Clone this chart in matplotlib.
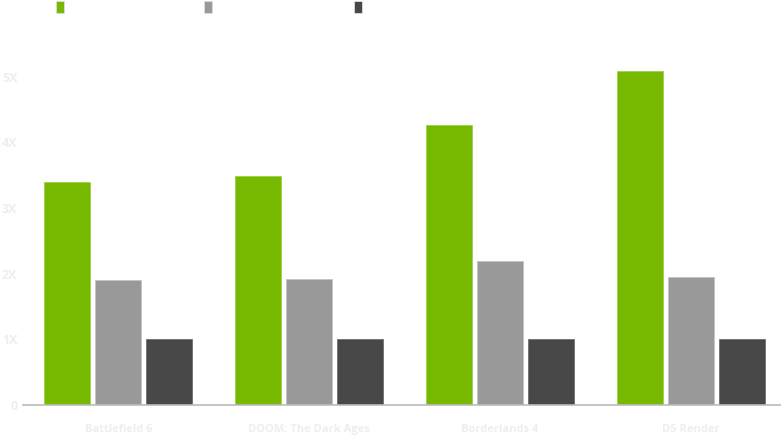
import matplotlib.pyplot as plt
import numpy as np
from matplotlib.patches import Rectangle

games = ['Battlefield 6', 'DOOM: The Dark Ages', 'Borderlands 4', 'D5 Render']
series_names = ['DLSS 4 MFG', 'DLSS SR', 'Native']
mfg = [3.39, 3.49, 4.26, 5.08]
sr = [1.90, 1.92, 2.19, 1.95]
native = [1.0, 1.0, 1.0, 1.0]
y_ticks = [0, 1, 2, 3, 4, 5]
y_labels = ['0', '1X', '2X', '3X', '4X', '5X']

colors = ['#76b900', '#999999', '#484848']
edges = ['#9fd14a', '#c4c4c4', '#6e6e6e']

plt.rcParams['font.family'] = ['Open Sans', 'DejaVu Sans']

fig = plt.figure(figsize=(7.81, 4.38), dpi=100)
ax = fig.add_axes([23 / 781, 33 / 438, 763 / 781, 394 / 438])

x = np.arange(len(games))
width = 0.241
step = 0.267
for i, vals in enumerate([mfg, sr, native]):
    ax.bar(x + (i - 1) * step, vals, width=width, color=colors[i],
           edgecolor=edges[i], linewidth=0.6, label=series_names[i], zorder=2)

ax.set_xlim(-0.5, 3.5)
ax.set_ylim(0, 6)
ax.set_yticks(y_ticks)
ax.set_yticklabels(y_labels)
ax.set_xticks(x)
ax.set_xticklabels(games)

for s in ['top', 'right', 'left']:
    ax.spines[s].set_visible(False)
ax.spines['bottom'].set_color('#bbbbbb')
ax.spines['bottom'].set_linewidth(1.2)
ax.tick_params(axis='both', length=0, colors='#eeeeee')
ax.tick_params(axis='y', pad=4, labelsize=9)
ax.tick_params(axis='x', pad=14, labelsize=8)
for lab in ax.get_xticklabels() + ax.get_yticklabels():
    lab.set_fontweight('bold')

# legend: small coloured blocks with white labels
legend_x = [56, 204, 354]
for lx, c, e, name in zip(legend_x, colors, edges, series_names):
    fig.add_artist(Rectangle((lx / 781, 1 - 13 / 438), 8 / 781, 12 / 438,
                             transform=fig.transFigure, facecolor=c,
                             edgecolor='#dddddd', linewidth=0.6))
    fig.text((lx + 14) / 781, 1 - 7 / 438, name, color='white',
             fontsize=8, fontweight='bold', va='center')

fig.savefig('out.png', dpi=100)
